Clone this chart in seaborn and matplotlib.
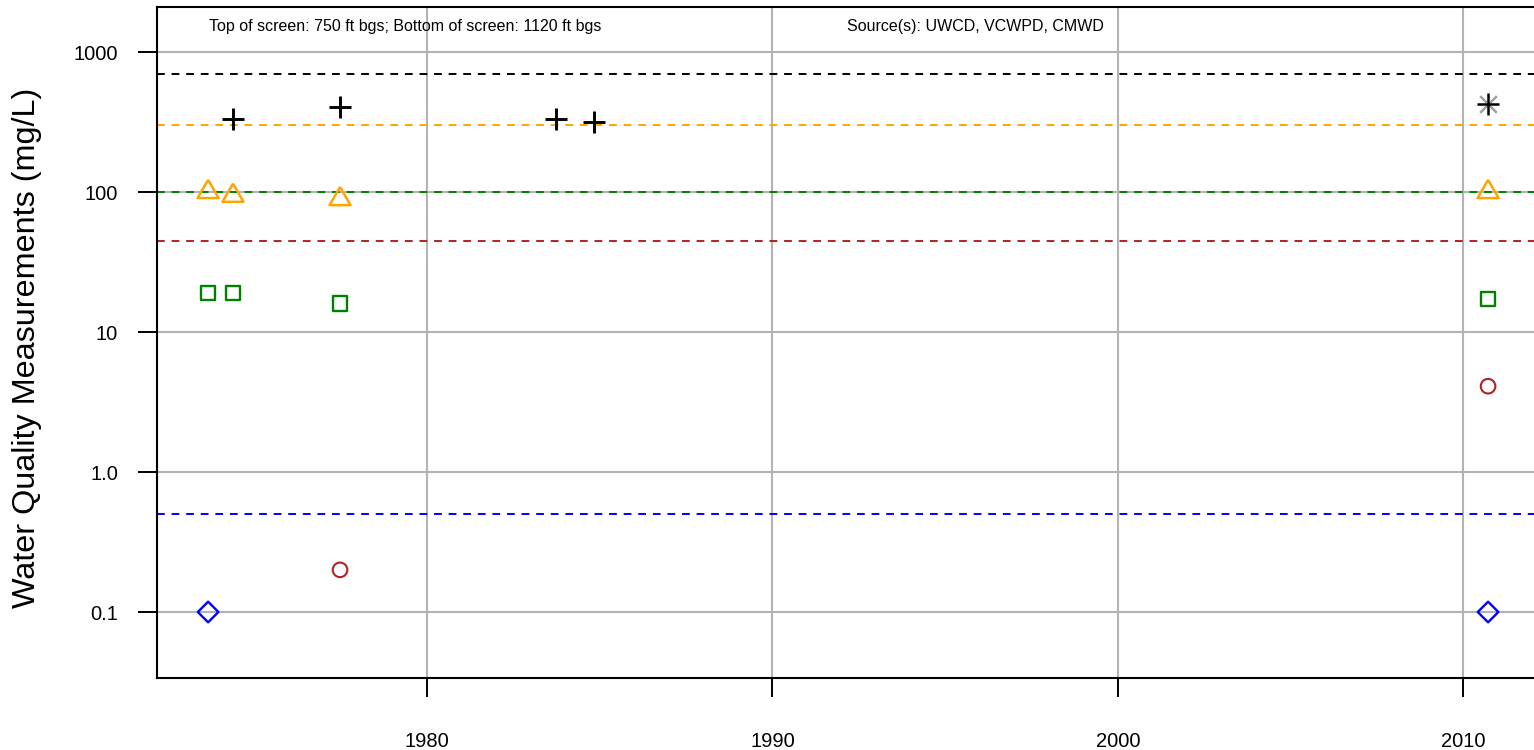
import numpy as np
import pandas as pd
import seaborn as sns
import matplotlib.pyplot as plt

plus_years = [1974.38, 1977.48, 1983.73, 1984.83]
plus_values = [330, 405, 330, 318]
star_years = [2010.72]
star_values = [425]
tri_years = [1973.66, 1974.38, 1977.48, 2010.72]
tri_values = [100, 94, 89, 100]
sq_years = [1973.66, 1974.38, 1977.48, 2010.72]
sq_values = [19, 19, 16, 17.2]
circ_years = [1977.48, 2010.72]
circ_values = [0.2, 4.1]
dia_years = [1973.66, 2010.72]
dia_values = [0.1, 0.1]

# reference limits (dashed lines)
limit_values = [700, 300, 100, 45, 0.5]
limit_colors = ['black', 'orange', 'green', '#B22222', 'blue']

x_ticks = [1980, 1990, 2000, 2010]
y_ticks = [0.1, 1, 10, 100, 1000]
y_tick_labels = ['0.1', '1.0', '10', '100', '1000']

sns.set_style('white')
plt.rcParams['font.family'] = ['Liberation Sans', 'DejaVu Sans']
plt.rcParams['text.color'] = 'black'
plt.rcParams['xtick.color'] = 'black'
plt.rcParams['ytick.color'] = 'black'
plt.rcParams['axes.labelcolor'] = 'black'

fig = plt.figure(figsize=(15.34, 7.5), dpi=100)
ax = fig.add_axes([157 / 1534, 1 - 678 / 750, 1 - 157 / 1534, (678 - 7) / 750])

ax.set_yscale('log')
ax.set_xlim(1972.18, 2012.05)
ax.set_ylim(10 ** (-1 - 66 / 140), 10 ** (3 + 45 / 140))

# grid
grid_kw = dict(color='#B3B3B3', lw=1.5, zorder=0)
for x in x_ticks:
    ax.axvline(x, **grid_kw)
for y in y_ticks:
    ax.axhline(y, **grid_kw)

for v, c in zip(limit_values, limit_colors):
    ax.axhline(v, color=c, lw=1.4, dashes=(4, 3.5), zorder=1)

# R-style triangle, centred on its centroid
tri_marker = [(0, 1.555), (1.347, -0.778), (-1.347, -0.778), (0, 1.555)]

def pts(years, values):
    return pd.DataFrame({'year': years, 'value': values})

sns.scatterplot(data=pts(plus_years, plus_values), x='year', y='value', ax=ax,
                marker='+', s=16 ** 2, color='black', linewidth=2.1, zorder=3)
sns.scatterplot(data=pts(star_years, star_values), x='year', y='value', ax=ax,
                marker='x', s=12 ** 2, color='#A0A0A0', linewidth=1.8, zorder=3)
sns.scatterplot(data=pts(star_years, star_values), x='year', y='value', ax=ax,
                marker='+', s=16 ** 2, color='black', linewidth=1.8, zorder=4)
sns.scatterplot(data=pts(tri_years, tri_values), x='year', y='value', ax=ax,
                marker=tri_marker, s=17.5 ** 2, facecolor='none', edgecolor='orange',
                linewidth=1.8, zorder=3)
sns.scatterplot(data=pts(sq_years, sq_values), x='year', y='value', ax=ax,
                marker='s', s=10.5 ** 2, facecolor='none', edgecolor='green', linewidth=1.7, zorder=3)
sns.scatterplot(data=pts(circ_years, circ_values), x='year', y='value', ax=ax,
                marker='o', s=10.5 ** 2, facecolor='none', edgecolor='#B22222', linewidth=1.5, zorder=3)
sns.scatterplot(data=pts(dia_years, dia_values), x='year', y='value', ax=ax,
                marker='D', s=10.5 ** 2, facecolor='none', edgecolor='blue', linewidth=1.7, zorder=3)

ax.set_xticks(x_ticks)
ax.set_xticklabels([str(x) for x in x_ticks])
ax.set_yticks(y_ticks)
ax.set_yticklabels(y_tick_labels)
ax.minorticks_off()
ax.tick_params(axis='x', direction='out', length=14, width=1.4, pad=25, labelsize=14.5, bottom=True)
ax.tick_params(axis='y', direction='out', length=14, width=1.4, pad=14, labelsize=14.5, left=True)

ax.set_xlabel('')
ax.set_ylabel('Water Quality Measurements (mg/L)', fontsize=23.3)
ax.yaxis.label.set_verticalalignment('center')
ax.yaxis.set_label_coords(-0.0944, 0.492)

for side in ['left', 'bottom', 'top']:
    ax.spines[side].set_color('black')
    ax.spines[side].set_linewidth(1.5)
ax.spines['right'].set_visible(False)

fig.text(405 / 1534, 1 - 27 / 750, 'Top of screen: 750 ft bgs; Bottom of screen: 1120 ft bgs',
         fontsize=11.5, ha='center', va='center')
fig.text(975 / 1534, 1 - 27 / 750, 'Source(s): UWCD, VCWPD, CMWD',
         fontsize=11.5, ha='center', va='center')

plt.savefig('out.png', dpi=100)
